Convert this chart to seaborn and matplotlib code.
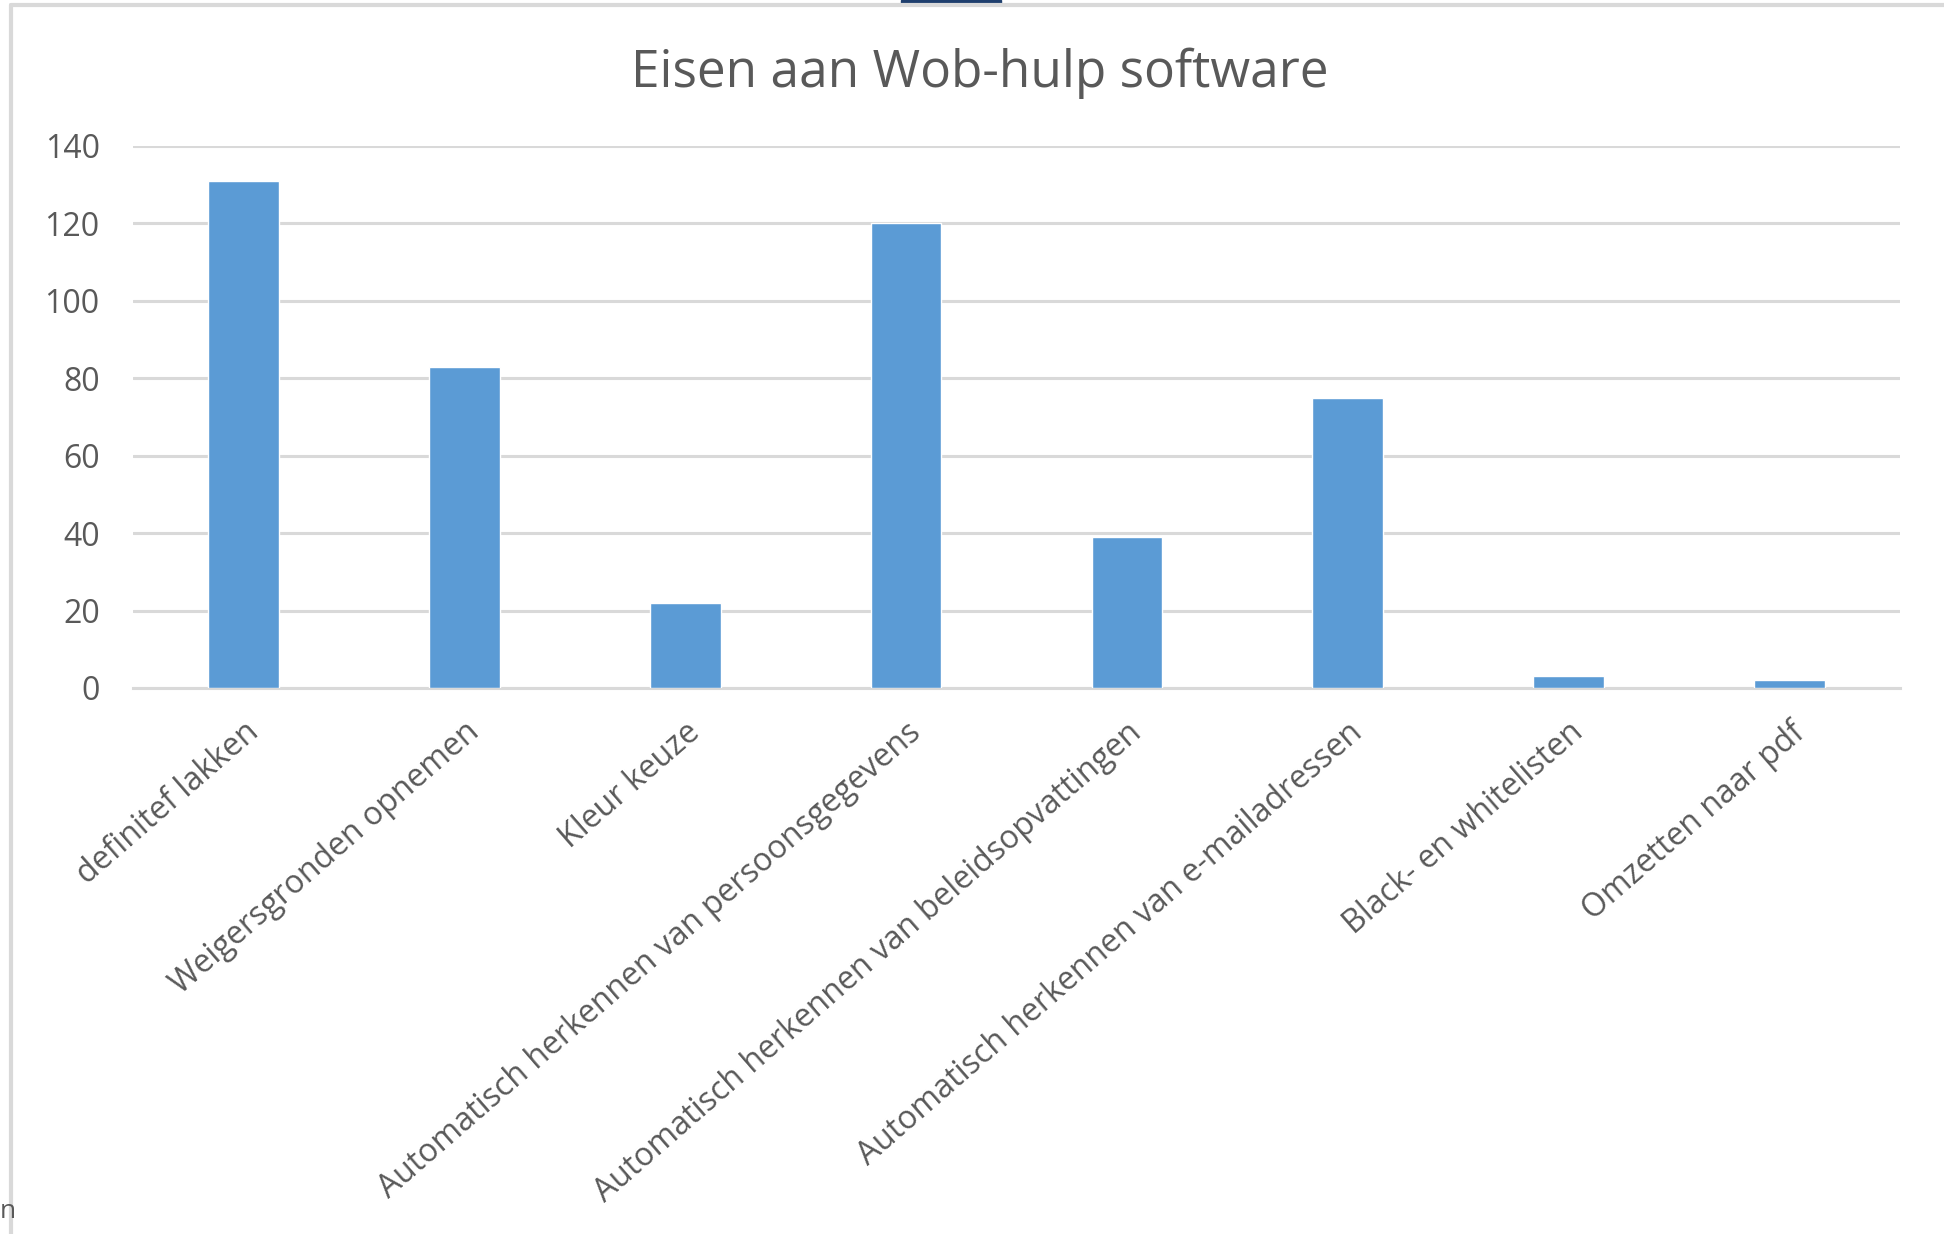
import matplotlib
matplotlib.use("Agg")
import matplotlib.pyplot as plt
import seaborn as sns
import pandas as pd
from matplotlib.patches import Rectangle
from matplotlib.lines import Line2D

categories = [
    "definitef lakken",
    "Weigersgronden opnemen",
    "Kleur keuze",
    "Automatisch herkennen van persoonsgegevens",
    "Automatisch herkennen van beleidsopvattingen",
    "Automatisch herkennen van e-mailadressen",
    "Black- en whitelisten",
    "Omzetten naar pdf",
]
values = [131, 83, 22, 120, 39, 75, 3, 2]
y_ticks = [0, 20, 40, 60, 80, 100, 120, 140]

sns.set_style("white")
plt.rcParams["font.family"] = ["Open Sans", "DejaVu Sans"]

df = pd.DataFrame({"Eis": categories, "Aantal": values})

W, H = 1944, 1234
fig = plt.figure(figsize=(W / 100, H / 100), dpi=100)
ax = fig.add_axes([133 / W, 1 - 688 / H, (1900 - 133) / W, (688 - 146) / H])

sns.barplot(data=df, x="Eis", y="Aantal", color="#5b9bd5", width=0.32,
            saturation=1, ax=ax, zorder=3)

ax.set_ylim(0, 140)
ax.set_xlim(-0.5, len(categories) - 0.5)
ax.set_yticks(y_ticks)
ax.set_yticklabels([str(t) for t in y_ticks], fontsize=23, color="#595959")
ax.tick_params(axis="y", length=0, pad=24)
ax.tick_params(axis="x", length=0, pad=20)
ax.set_xticks(range(len(categories)))
ax.set_xticklabels(categories, rotation=41, ha="right", rotation_mode="anchor",
                   fontsize=23, color="#595959")
ax.grid(axis="y", color="#d9d9d9", linewidth=2.2, zorder=0)
ax.set_axisbelow(True)
for s in ["top", "right", "left"]:
    ax.spines[s].set_visible(False)
ax.spines["bottom"].set_color("#d9d9d9")
ax.spines["bottom"].set_linewidth(2.2)
ax.set_xlabel("")
ax.set_ylabel("")

fig.text(980 / W, 1 - 73 / H, "Eisen aan Wob-hulp software", ha="center", va="center",
         fontsize=37, color="#595959")

# screenshot frame around the chart
fig.add_artist(Line2D([11 / W, 11 / W], [0, 1 - 5 / H], transform=fig.transFigure,
                      color="#d9d9d9", linewidth=3))
fig.add_artist(Line2D([11 / W, 1], [1 - 5 / H, 1 - 5 / H], transform=fig.transFigure,
                      color="#d9d9d9", linewidth=3))
fig.add_artist(Rectangle((901 / W, 1 - 4 / H), 100 / W, 4 / H, transform=fig.transFigure,
                         color="#1f3f6e"))
fig.text(0, 1 - 1212 / H, "n", ha="left", va="center", fontsize=19, color="#595959")

fig.savefig("out.png", dpi=100, facecolor="white")
